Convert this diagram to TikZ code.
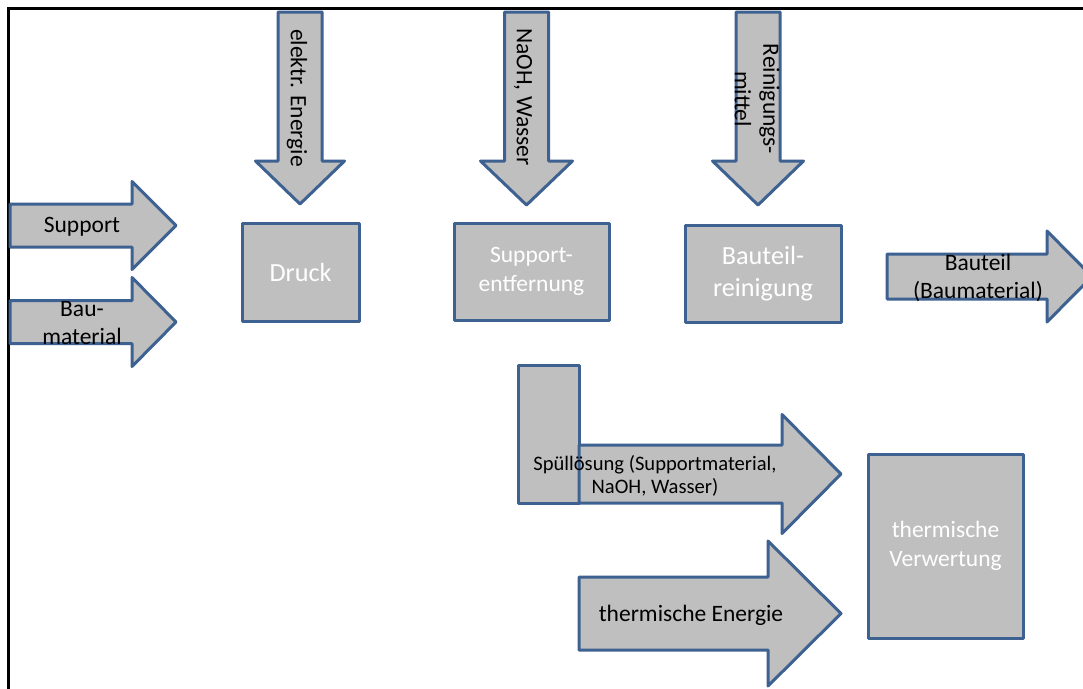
\documentclass[tikz,border=0pt]{standalone}
\usepackage{fontspec}
\setmainfont{Carlito}
\definecolor{edgeblue}{HTML}{3D6190}
\definecolor{fillgray}{HTML}{BFBFBF}
\tikzset{
  shp/.style={draw=edgeblue, fill=fillgray, line width=3pt, line join=round},
  boxnode/.style={draw=edgeblue, fill=fillgray, line width=3pt, line join=round, rectangle, inner sep=0pt, text=white, align=center},
  lbl/.style={text=black, align=center, inner sep=0pt},
  fbig/.style={font=\fontsize{26.2}{31.5}\selectfont},
  fmid/.style={font=\fontsize{23.5}{28.5}\selectfont},
  fsmall/.style={font=\fontsize{20.6}{23.5}\selectfont},
}
% right block arrow: x0, head base, tip, y centre, body half, head half
\newcommand{\myrarrow}[6]{%
  \path[shp] (#1,#4-#5) -- (#2,#4-#5) -- (#2,#4-#6) -- (#3,#4) -- (#2,#4+#6) -- (#2,#4+#5) -- (#1,#4+#5) -- cycle;}
% down block arrow: x centre, top, head base, tip, body half, head half
\newcommand{\mydarrow}[6]{%
  \path[shp] (#1-#5,#2) -- (#1+#5,#2) -- (#1+#5,#3) -- (#1+#6,#3) -- (#1,#4) -- (#1-#6,#3) -- (#1-#5,#3) -- cycle;}
\begin{document}
\begin{tikzpicture}[x=1pt,y=-1pt]
\useasboundingbox (0,0) rectangle (1083,688);
\clip (0,0) rectangle (1083,688);
% frame
\draw[line width=2.5pt, black] (8.7,700) -- (8.7,8.7) -- (1100,8.7);
% input arrows left
\myrarrow{10}{132}{176}{225.5}{21.5}{44}
\myrarrow{10}{132}{176}{322}{21.5}{44.5}
% down arrows
\mydarrow{300}{12}{161}{204}{22}{44.5}
\mydarrow{526.5}{12}{161}{205}{22}{46}
\mydarrow{758}{12}{161}{205}{22}{45.5}
% output arrow
\myrarrow{887}{1047}{1092}{276.5}{22.5}{45.5}
% process boxes
\node[boxnode, fbig, minimum width=117pt, minimum height=98pt] (druck) at (300.5,272) {Druck};
\node[boxnode, fmid, minimum width=155pt, minimum height=97pt] (supent) at (531.5,271.5) {Support-\\entfernung};
\node[boxnode, fbig, minimum width=156pt, minimum height=97pt] (bauteilrein) at (763,273.5) {Bauteil-\\reinigung};
\node[boxnode, fmid, minimum width=155pt, minimum height=184pt] (verwertung) at (945.5,546) {thermische\\Verwertung};
% Spuelloesung block and arrow
\path[shp] (518,365) rectangle (579,503);
\myrarrow{579}{782}{841}{474}{29}{59.5}
% thermal energy arrow
\myrarrow{579}{768}{841}{613.5}{36.5}{72.5}
% labels
\node[lbl, fmid] (lsupport) at (82,227) {Support};
\node[lbl, fmid] (lbau) at (82,323) {Bau-\\material};
\node[lbl, fmid, rotate=-90] (lelek) at (297,98) {elektr. Energie};
\node[lbl, fmid, rotate=-90] (lnaoh) at (523,97) {NaOH, Wasser};
\node[lbl, fmid, rotate=-90] (lrein) at (757,99) {Reinigungs-\\mittel};
\node[lbl, fmid] (lbauteil) at (978,278) {Bauteil\\(Baumaterial)};
\node[lbl, fsmall] (lspuel) at (655,476) {Spüllösung (Supportmaterial,\\NaOH, Wasser)};
\node[lbl, fmid] (ltherm) at (691,615) {thermische Energie};
\end{tikzpicture}
\end{document}
